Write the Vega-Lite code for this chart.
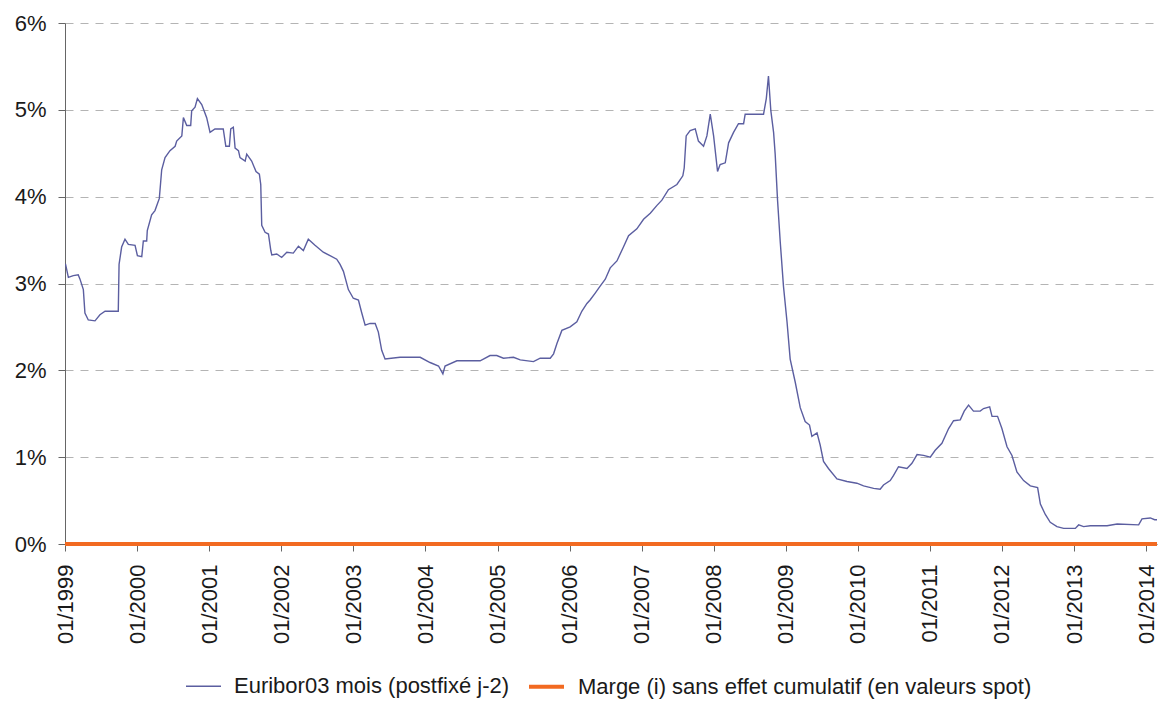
{
  "$schema": "https://vega.github.io/schema/vega-lite/v6.json",
  "autosize": "none",
  "width": 1092,
  "height": 521,
  "padding": {"left": 65, "top": 23, "right": 1, "bottom": 157},
  "background": "white",
  "config": {
    "view": {"stroke": null},
    "font": "Liberation Sans",
    "axis": {"labelFont": "Liberation Sans", "labelColor": "#1a1a1a", "labelFontSize": 22, "domainColor": "#666666", "tickColor": "#666666", "tickSize": 7, "title": null},
    "legend": {"title": null, "orient": "none", "legendX": 120, "legendY": 644, "direction": "horizontal", "labelFontSize": 22, "labelFont": "Liberation Sans", "labelColor": "#1a1a1a", "labelLimit": 1000, "symbolType": "stroke", "symbolSize": 1225, "labelOffset": 12, "columnPadding": 11}
  },
  "datasets": {
    "euribor": [
      {"date": "1999-01-01", "v": 3.22},
      {"date": "1999-01-04", "v": 3.22},
      {"date": "1999-01-18", "v": 3.07},
      {"date": "1999-02-12", "v": 3.09},
      {"date": "1999-03-09", "v": 3.10},
      {"date": "1999-03-18", "v": 3.05},
      {"date": "1999-04-04", "v": 2.93},
      {"date": "1999-04-12", "v": 2.66},
      {"date": "1999-04-29", "v": 2.58},
      {"date": "1999-06-02", "v": 2.57},
      {"date": "1999-06-27", "v": 2.64},
      {"date": "1999-07-23", "v": 2.68},
      {"date": "1999-09-28", "v": 2.68},
      {"date": "1999-10-02", "v": 3.22},
      {"date": "1999-10-15", "v": 3.42},
      {"date": "1999-11-01", "v": 3.51},
      {"date": "1999-11-18", "v": 3.45},
      {"date": "1999-12-22", "v": 3.44},
      {"date": "2000-01-03", "v": 3.32},
      {"date": "2000-01-25", "v": 3.31},
      {"date": "2000-02-02", "v": 3.49},
      {"date": "2000-02-19", "v": 3.49},
      {"date": "2000-02-22", "v": 3.61},
      {"date": "2000-03-15", "v": 3.79},
      {"date": "2000-04-01", "v": 3.84},
      {"date": "2000-04-23", "v": 3.98},
      {"date": "2000-05-05", "v": 4.31},
      {"date": "2000-05-22", "v": 4.45},
      {"date": "2000-06-16", "v": 4.53},
      {"date": "2000-07-12", "v": 4.58},
      {"date": "2000-07-20", "v": 4.64},
      {"date": "2000-08-15", "v": 4.70},
      {"date": "2000-08-23", "v": 4.91},
      {"date": "2000-09-09", "v": 4.82},
      {"date": "2000-09-29", "v": 4.82},
      {"date": "2000-10-04", "v": 4.99},
      {"date": "2000-10-21", "v": 5.03},
      {"date": "2000-11-02", "v": 5.13},
      {"date": "2000-11-24", "v": 5.06},
      {"date": "2000-12-19", "v": 4.91},
      {"date": "2001-01-05", "v": 4.74},
      {"date": "2001-01-30", "v": 4.78},
      {"date": "2001-03-13", "v": 4.78},
      {"date": "2001-03-26", "v": 4.58},
      {"date": "2001-04-13", "v": 4.58},
      {"date": "2001-04-20", "v": 4.78},
      {"date": "2001-05-03", "v": 4.80},
      {"date": "2001-05-12", "v": 4.56},
      {"date": "2001-05-29", "v": 4.53},
      {"date": "2001-06-06", "v": 4.45},
      {"date": "2001-07-02", "v": 4.41},
      {"date": "2001-07-10", "v": 4.49},
      {"date": "2001-08-04", "v": 4.41},
      {"date": "2001-08-26", "v": 4.29},
      {"date": "2001-09-12", "v": 4.26},
      {"date": "2001-09-19", "v": 4.14},
      {"date": "2001-09-24", "v": 3.67},
      {"date": "2001-10-11", "v": 3.59},
      {"date": "2001-10-28", "v": 3.57},
      {"date": "2001-11-09", "v": 3.38},
      {"date": "2001-11-14", "v": 3.33},
      {"date": "2001-12-09", "v": 3.34},
      {"date": "2002-01-03", "v": 3.30},
      {"date": "2002-01-29", "v": 3.36},
      {"date": "2002-03-03", "v": 3.35},
      {"date": "2002-03-29", "v": 3.43},
      {"date": "2002-04-23", "v": 3.38},
      {"date": "2002-05-18", "v": 3.51},
      {"date": "2002-06-21", "v": 3.44},
      {"date": "2002-08-02", "v": 3.36},
      {"date": "2002-09-05", "v": 3.32},
      {"date": "2002-10-09", "v": 3.28},
      {"date": "2002-10-26", "v": 3.22},
      {"date": "2002-11-12", "v": 3.14},
      {"date": "2002-12-07", "v": 2.93},
      {"date": "2003-01-01", "v": 2.83},
      {"date": "2003-01-27", "v": 2.81},
      {"date": "2003-02-13", "v": 2.66},
      {"date": "2003-03-02", "v": 2.52},
      {"date": "2003-03-27", "v": 2.54},
      {"date": "2003-04-22", "v": 2.54},
      {"date": "2003-05-08", "v": 2.44},
      {"date": "2003-05-25", "v": 2.23},
      {"date": "2003-06-11", "v": 2.13},
      {"date": "2003-08-26", "v": 2.15},
      {"date": "2003-11-02", "v": 2.15},
      {"date": "2003-12-06", "v": 2.15},
      {"date": "2004-01-25", "v": 2.09},
      {"date": "2004-03-08", "v": 2.05},
      {"date": "2004-03-30", "v": 1.96},
      {"date": "2004-04-10", "v": 2.05},
      {"date": "2004-06-09", "v": 2.11},
      {"date": "2004-10-05", "v": 2.11},
      {"date": "2004-11-24", "v": 2.17},
      {"date": "2004-12-28", "v": 2.17},
      {"date": "2005-01-31", "v": 2.14},
      {"date": "2005-03-23", "v": 2.15},
      {"date": "2005-04-26", "v": 2.12},
      {"date": "2005-07-02", "v": 2.10},
      {"date": "2005-08-05", "v": 2.14},
      {"date": "2005-09-25", "v": 2.14},
      {"date": "2005-10-12", "v": 2.19},
      {"date": "2005-10-29", "v": 2.31},
      {"date": "2005-11-23", "v": 2.46},
      {"date": "2006-01-04", "v": 2.50},
      {"date": "2006-02-07", "v": 2.56},
      {"date": "2006-03-04", "v": 2.68},
      {"date": "2006-03-30", "v": 2.77},
      {"date": "2006-04-15", "v": 2.81},
      {"date": "2006-05-11", "v": 2.89},
      {"date": "2006-06-05", "v": 2.97},
      {"date": "2006-07-01", "v": 3.05},
      {"date": "2006-07-26", "v": 3.18},
      {"date": "2006-08-29", "v": 3.26},
      {"date": "2006-10-01", "v": 3.42},
      {"date": "2006-10-27", "v": 3.55},
      {"date": "2006-12-08", "v": 3.63},
      {"date": "2007-01-11", "v": 3.74},
      {"date": "2007-02-14", "v": 3.81},
      {"date": "2007-03-20", "v": 3.90},
      {"date": "2007-04-14", "v": 3.96},
      {"date": "2007-05-17", "v": 4.08},
      {"date": "2007-06-29", "v": 4.14},
      {"date": "2007-07-29", "v": 4.24},
      {"date": "2007-08-05", "v": 4.33},
      {"date": "2007-08-15", "v": 4.70},
      {"date": "2007-09-04", "v": 4.76},
      {"date": "2007-09-30", "v": 4.78},
      {"date": "2007-10-16", "v": 4.64},
      {"date": "2007-11-11", "v": 4.58},
      {"date": "2007-11-28", "v": 4.70},
      {"date": "2007-12-15", "v": 4.95},
      {"date": "2008-01-01", "v": 4.70},
      {"date": "2008-01-21", "v": 4.29},
      {"date": "2008-02-03", "v": 4.37},
      {"date": "2008-02-29", "v": 4.39},
      {"date": "2008-03-17", "v": 4.62},
      {"date": "2008-04-11", "v": 4.74},
      {"date": "2008-05-06", "v": 4.84},
      {"date": "2008-06-01", "v": 4.84},
      {"date": "2008-06-09", "v": 4.95},
      {"date": "2008-09-10", "v": 4.95},
      {"date": "2008-09-24", "v": 5.13},
      {"date": "2008-10-05", "v": 5.39},
      {"date": "2008-10-17", "v": 4.99},
      {"date": "2008-10-31", "v": 4.74},
      {"date": "2008-11-08", "v": 4.49},
      {"date": "2008-11-20", "v": 3.96},
      {"date": "2008-12-04", "v": 3.47},
      {"date": "2008-12-20", "v": 2.97},
      {"date": "2009-01-07", "v": 2.56},
      {"date": "2009-01-23", "v": 2.13},
      {"date": "2009-02-18", "v": 1.86},
      {"date": "2009-03-15", "v": 1.57},
      {"date": "2009-04-09", "v": 1.41},
      {"date": "2009-05-01", "v": 1.37},
      {"date": "2009-05-13", "v": 1.24},
      {"date": "2009-06-08", "v": 1.28},
      {"date": "2009-06-24", "v": 1.14},
      {"date": "2009-07-11", "v": 0.95},
      {"date": "2009-08-05", "v": 0.87},
      {"date": "2009-09-17", "v": 0.75},
      {"date": "2009-11-07", "v": 0.72},
      {"date": "2009-12-27", "v": 0.70},
      {"date": "2010-01-30", "v": 0.67},
      {"date": "2010-03-22", "v": 0.64},
      {"date": "2010-04-24", "v": 0.63},
      {"date": "2010-05-11", "v": 0.68},
      {"date": "2010-06-14", "v": 0.73},
      {"date": "2010-07-01", "v": 0.79},
      {"date": "2010-07-26", "v": 0.89},
      {"date": "2010-09-07", "v": 0.87},
      {"date": "2010-10-02", "v": 0.93},
      {"date": "2010-10-28", "v": 1.03},
      {"date": "2010-11-30", "v": 1.02},
      {"date": "2011-01-03", "v": 1.00},
      {"date": "2011-01-28", "v": 1.08},
      {"date": "2011-03-03", "v": 1.16},
      {"date": "2011-04-06", "v": 1.33},
      {"date": "2011-05-01", "v": 1.42},
      {"date": "2011-06-04", "v": 1.43},
      {"date": "2011-06-24", "v": 1.53},
      {"date": "2011-07-16", "v": 1.60},
      {"date": "2011-08-10", "v": 1.53},
      {"date": "2011-09-13", "v": 1.53},
      {"date": "2011-09-30", "v": 1.56},
      {"date": "2011-10-31", "v": 1.58},
      {"date": "2011-11-12", "v": 1.47},
      {"date": "2011-12-10", "v": 1.47},
      {"date": "2012-01-01", "v": 1.33},
      {"date": "2012-01-27", "v": 1.12},
      {"date": "2012-02-21", "v": 1.02},
      {"date": "2012-03-17", "v": 0.83},
      {"date": "2012-04-20", "v": 0.73},
      {"date": "2012-05-24", "v": 0.67},
      {"date": "2012-06-30", "v": 0.65},
      {"date": "2012-07-14", "v": 0.46},
      {"date": "2012-08-08", "v": 0.34},
      {"date": "2012-09-02", "v": 0.25},
      {"date": "2012-10-06", "v": 0.20},
      {"date": "2012-11-09", "v": 0.18},
      {"date": "2013-01-07", "v": 0.18},
      {"date": "2013-01-24", "v": 0.22},
      {"date": "2013-02-18", "v": 0.20},
      {"date": "2013-03-24", "v": 0.21},
      {"date": "2013-06-17", "v": 0.21},
      {"date": "2013-08-07", "v": 0.23},
      {"date": "2013-11-24", "v": 0.22},
      {"date": "2013-12-11", "v": 0.29},
      {"date": "2014-01-22", "v": 0.30},
      {"date": "2014-02-13", "v": 0.28},
      {"date": "2014-02-25", "v": 0.28}
    ],
    "marge": [
      {"date": "1999-01-01", "v": 0},
      {"date": "2014-02-25", "v": 0}
    ]
  },
  "encoding": {
    "x": {
      "field": "date", "type": "temporal",
      "scale": {"type": "utc", "domain": [{"year": 1999, "month": 1, "date": 1, "utc": true}, {"year": 2014, "month": 2, "date": 25, "utc": true}], "nice": false},
      "axis": {"format": "%m/%Y", "labelAngle": 270, "labelPadding": 13, "tickCount": {"interval": "year", "step": 1}, "grid": false, "labelOverlap": false, "labelFlush": false}
    },
    "y": {
      "field": "v", "type": "quantitative",
      "scale": {"domain": [0, 6], "nice": false},
      "axis": {"values": [0, 1, 2, 3, 4, 5, 6], "labelExpr": "datum.value + '%'", "labelPadding": 12, "grid": true, "gridColor": "#b4b4b4", "gridDash": [8, 7], "gridWidth": 1}
    }
  },
  "layer": [
    {
      "data": {"name": "euribor"},
      "mark": {"type": "line", "interpolate": "linear", "clip": true},
      "encoding": {
        "color": {"datum": "Euribor03 mois (postfixé j-2)", "type": "nominal",
          "scale": {"domain": ["Euribor03 mois (postfixé j-2)", "Marge (i) sans effet cumulatif (en valeurs spot)"], "range": ["#5b5ea0", "#f26a21"]}},
        "strokeWidth": {"datum": "Euribor03 mois (postfixé j-2)", "type": "nominal",
          "scale": {"domain": ["Euribor03 mois (postfixé j-2)", "Marge (i) sans effet cumulatif (en valeurs spot)"], "range": [1.4, 4]}}
      }
    },
    {
      "data": {"name": "marge"},
      "mark": {"type": "line", "clip": false},
      "encoding": {
        "color": {"datum": "Marge (i) sans effet cumulatif (en valeurs spot)", "type": "nominal"},
        "strokeWidth": {"datum": "Marge (i) sans effet cumulatif (en valeurs spot)", "type": "nominal"}
      }
    }
  ]
}
